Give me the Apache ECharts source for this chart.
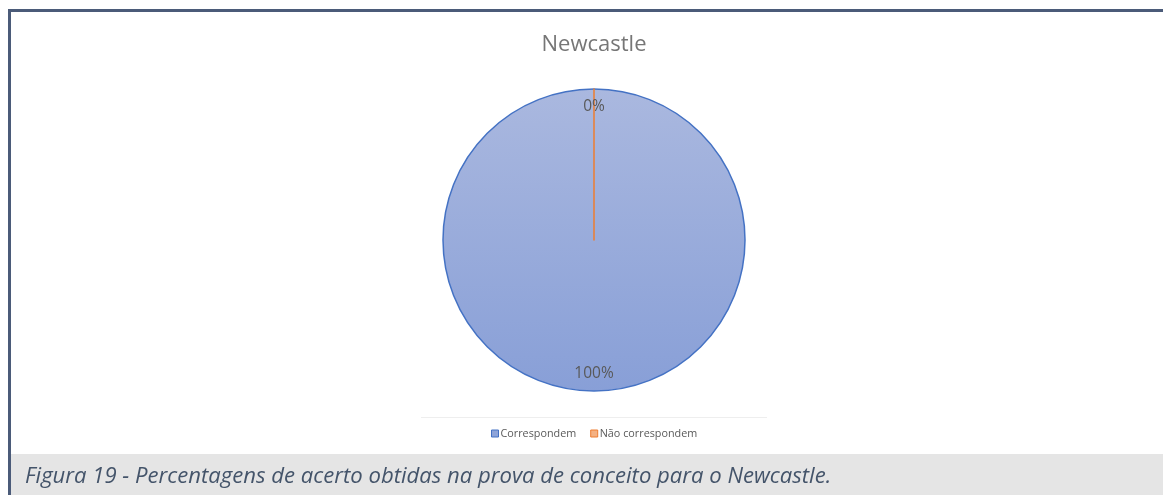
<!DOCTYPE html>
<html>
<head>
<meta charset="utf-8">
<script src="https://cdn.jsdelivr.net/npm/echarts@6/dist/echarts.min.js"></script>
<style>
  html, body { margin: 0; padding: 0; background: #ffffff; }
  #chart { width: 1163px; height: 495px; }
</style>
</head>
<body>
<div id="chart"></div>
<script>
// Proof-of-concept match rates for Newcastle
const chartTitle = 'Newcastle';
const categories = ['Correspondem', 'Não correspondem'];
const values = [100, 0];
const sliceColors = ['#9eb0dd', '#ed7d31'];
const caption = 'Figura 19 - Percentagens de acerto obtidas na prova de conceito para o Newcastle.';

const chart = echarts.init(document.getElementById('chart'));

const pieData = categories.map((name, i) => ({ name, value: values[i] }));

const option = {
  animation: false,
  backgroundColor: '#ffffff',
  legend: {
    data: categories.map((name, i) => ({
      name,
      itemStyle: {
        color: i === 0 ? '#8ea4d9' : '#f4b183',
        borderColor: i === 0 ? '#4472c4' : '#ed7d31',
        borderWidth: 1
      }
    })),
    left: 486,
    top: 423,
    itemWidth: 7,
    itemHeight: 7,
    itemGap: 14,
    icon: 'rect',
    textStyle: {
      fontFamily: 'Open Sans',
      fontSize: 10.8,
      color: '#595959',
      padding: [0, 0, 0, -3]
    }
  },
  graphic: [
    // frame
    { type: 'rect', shape: { x: 8, y: 9, width: 1160, height: 3 }, style: { fill: '#4b5b79' }, z: 10 },
    { type: 'rect', shape: { x: 8, y: 9, width: 3, height: 490 }, style: { fill: '#4b5b79' }, z: 10 },
    // title
    {
      type: 'text', x: 594, y: 45,
      style: {
        text: chartTitle,
        align: 'center',
        verticalAlign: 'middle',
        fontFamily: 'Open Sans',
        fontSize: 22,
        fill: '#767676'
      }
    },
    // faint plot-area rule above legend
    { type: 'line', shape: { x1: 421, y1: 417.5, x2: 767, y2: 417.5 }, style: { stroke: '#eeeeee', lineWidth: 1 } },
    // caption band
    { type: 'rect', shape: { x: 11, y: 454, width: 1152, height: 41 }, style: { fill: '#e5e5e5' } },
    {
      type: 'text', x: 25, y: 477,
      style: {
        text: caption,
        align: 'left',
        verticalAlign: 'middle',
        fontFamily: 'Open Sans',
        fontStyle: 'italic',
        fontSize: 22.1,
        fill: '#44546a'
      }
    }
  ],
  series: [
    {
      type: 'pie',
      center: [594, 240],
      radius: [0, 151],
      startAngle: 90,
      clockwise: true,
      silent: true,
      label: { show: false },
      labelLine: { show: false },
      data: pieData.map((d, i) => ({
        name: d.name,
        value: d.value,
        itemStyle: i === 0
          ? {
              color: new echarts.graphic.LinearGradient(0, 0, 0, 1, [
                { offset: 0, color: '#aab8df' },
                { offset: 1, color: '#889fd7' }
              ]),
              borderColor: '#4472c4',
              borderWidth: 1.5
            }
          : {
              color: sliceColors[1],
              borderColor: sliceColors[1],
              borderWidth: 1.5
            }
      })),
      emphasis: { disabled: true }
    },
    {
      // label ring: places percentage labels near the outer edge
      type: 'pie',
      center: [594, 240],
      radius: [110, 151],
      startAngle: 90,
      clockwise: true,
      silent: true,
      legendHoverLink: false,
      itemStyle: { color: 'rgba(0,0,0,0)', borderWidth: 0 },
      label: {
        show: true,
        position: 'inside',
        formatter: p => Math.round(p.percent) + '%',
        fontFamily: 'Open Sans',
        fontSize: 15.5,
        color: '#595959'
      },
      labelLine: { show: false },
      data: pieData.map(d => ({ name: d.name + ' ', value: d.value })),
      emphasis: { disabled: true }
    }
  ]
};

chart.setOption(option);
</script>
</body>
</html>
